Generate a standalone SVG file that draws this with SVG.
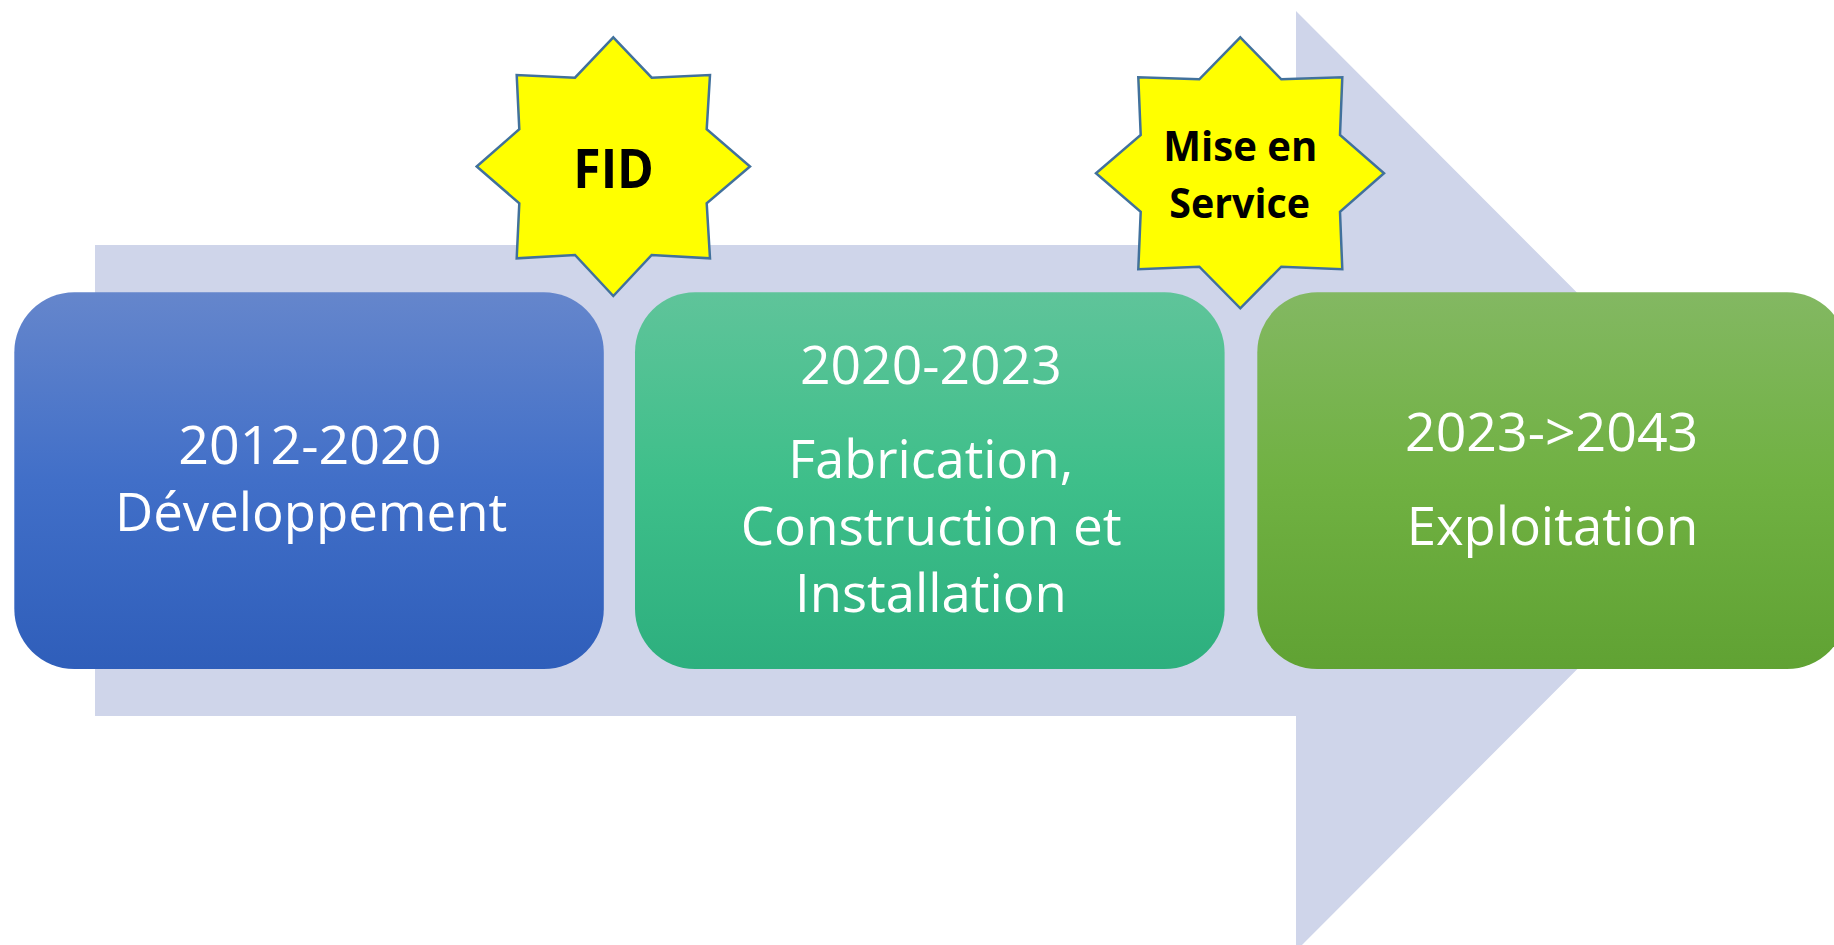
<svg xmlns="http://www.w3.org/2000/svg" width="1834" height="945" viewBox="0 0 1834 945">
  <defs>
    <linearGradient id="gBlue" x1="0" y1="0" x2="0" y2="1">
      <stop offset="0" stop-color="#6586CC"/>
      <stop offset="0.5" stop-color="#416FC8"/>
      <stop offset="1" stop-color="#2F5EBA"/>
    </linearGradient>
    <linearGradient id="gTeal" x1="0" y1="0" x2="0" y2="1">
      <stop offset="0" stop-color="#5FC49A"/>
      <stop offset="0.5" stop-color="#3EBF8A"/>
      <stop offset="1" stop-color="#2DAF7E"/>
    </linearGradient>
    <linearGradient id="gGreen" x1="0" y1="0" x2="0" y2="1">
      <stop offset="0" stop-color="#83B862"/>
      <stop offset="0.5" stop-color="#70B142"/>
      <stop offset="1" stop-color="#60A233"/>
    </linearGradient>
    <style>
      .box { stroke: none; }
      .lbl { font-family: "Open Sans", "Liberation Sans", sans-serif; font-size: 53.5px; fill: #FFFFFF; }
      .star { fill: #FFFF00; stroke: #41719C; stroke-width: 2.5; stroke-linejoin: miter; }
      .stxt { font-family: "Open Sans", "Liberation Sans", sans-serif; font-weight: bold; fill: #000000; }
    </style>
  </defs>
  <rect width="1834" height="945" fill="#FFFFFF"/>
  <g id="connectors">
    <polygon id="timeline-arrow" points="95,245 1296,245 1296,11 1765,481 1296,951 1296,716 95,716" fill="#CFD5EA"/>
  </g>
  <g id="node-dev">
    <rect class="box" x="14.3" y="292.3" width="589.5" height="376.7" rx="60" ry="60" fill="url(#gBlue)"/>
    <text class="lbl" x="178.3" y="464.3" textLength="263.3" lengthAdjust="spacingAndGlyphs">2012-2020</text>
    <text class="lbl" x="115" y="530.7" textLength="392.3" lengthAdjust="spacingAndGlyphs">Développement</text>
  </g>
  <g id="node-fab">
    <rect class="box" x="635" y="292.3" width="589.6" height="376.7" rx="60" ry="60" fill="url(#gTeal)"/>
    <text class="lbl" x="800" y="384" textLength="261.7" lengthAdjust="spacingAndGlyphs">2020-2023</text>
    <text class="lbl" x="788.3" y="477.7" textLength="285" lengthAdjust="spacingAndGlyphs">Fabrication,</text>
    <text class="lbl" x="740.7" y="545" textLength="381" lengthAdjust="spacingAndGlyphs">Construction et</text>
    <text class="lbl" x="795" y="611.7" textLength="271.7" lengthAdjust="spacingAndGlyphs">Installation</text>
  </g>
  <g id="node-exp">
    <rect class="box" x="1257.3" y="292.3" width="589.7" height="376.7" rx="60" ry="60" fill="url(#gGreen)"/>
    <text class="lbl" x="1405" y="451" textLength="293.3" lengthAdjust="spacingAndGlyphs">2023-&gt;2043</text>
    <text class="lbl" x="1406.7" y="545" textLength="291.7" lengthAdjust="spacingAndGlyphs">Exploitation</text>
  </g>
  <g id="node-fid">
    <polygon class="star" points="613.3,37.3 651.7,77.7 710,75 706.7,129.3 750,166.5 706.7,203.3 710,258.3 651.7,255 613.3,296 575,255 516.7,258.3 519.3,203.3 476.7,166.5 519.3,129.3 516.7,75 575,77.7"/>
    <text class="stxt" x="573.3" y="187.7" font-size="54" textLength="80.7" lengthAdjust="spacingAndGlyphs">FID</text>
  </g>
  <g id="node-mes">
    <polygon class="star" points="1240.3,37.3 1281.3,79.3 1342.3,77.3 1340,135 1384,173.3 1340,211.7 1342.3,269.3 1281.3,266.7 1240.3,308.3 1199.3,266.7 1138.3,269.3 1140.7,211.7 1096,173.3 1140.7,135 1138.3,77.3 1199.3,79.3"/>
    <text class="stxt" x="1163.3" y="161" font-size="41" textLength="154" lengthAdjust="spacingAndGlyphs">Mise en</text>
    <text class="stxt" x="1169.3" y="218.3" font-size="41" textLength="140.7" lengthAdjust="spacingAndGlyphs">Service</text>
  </g>
</svg>
